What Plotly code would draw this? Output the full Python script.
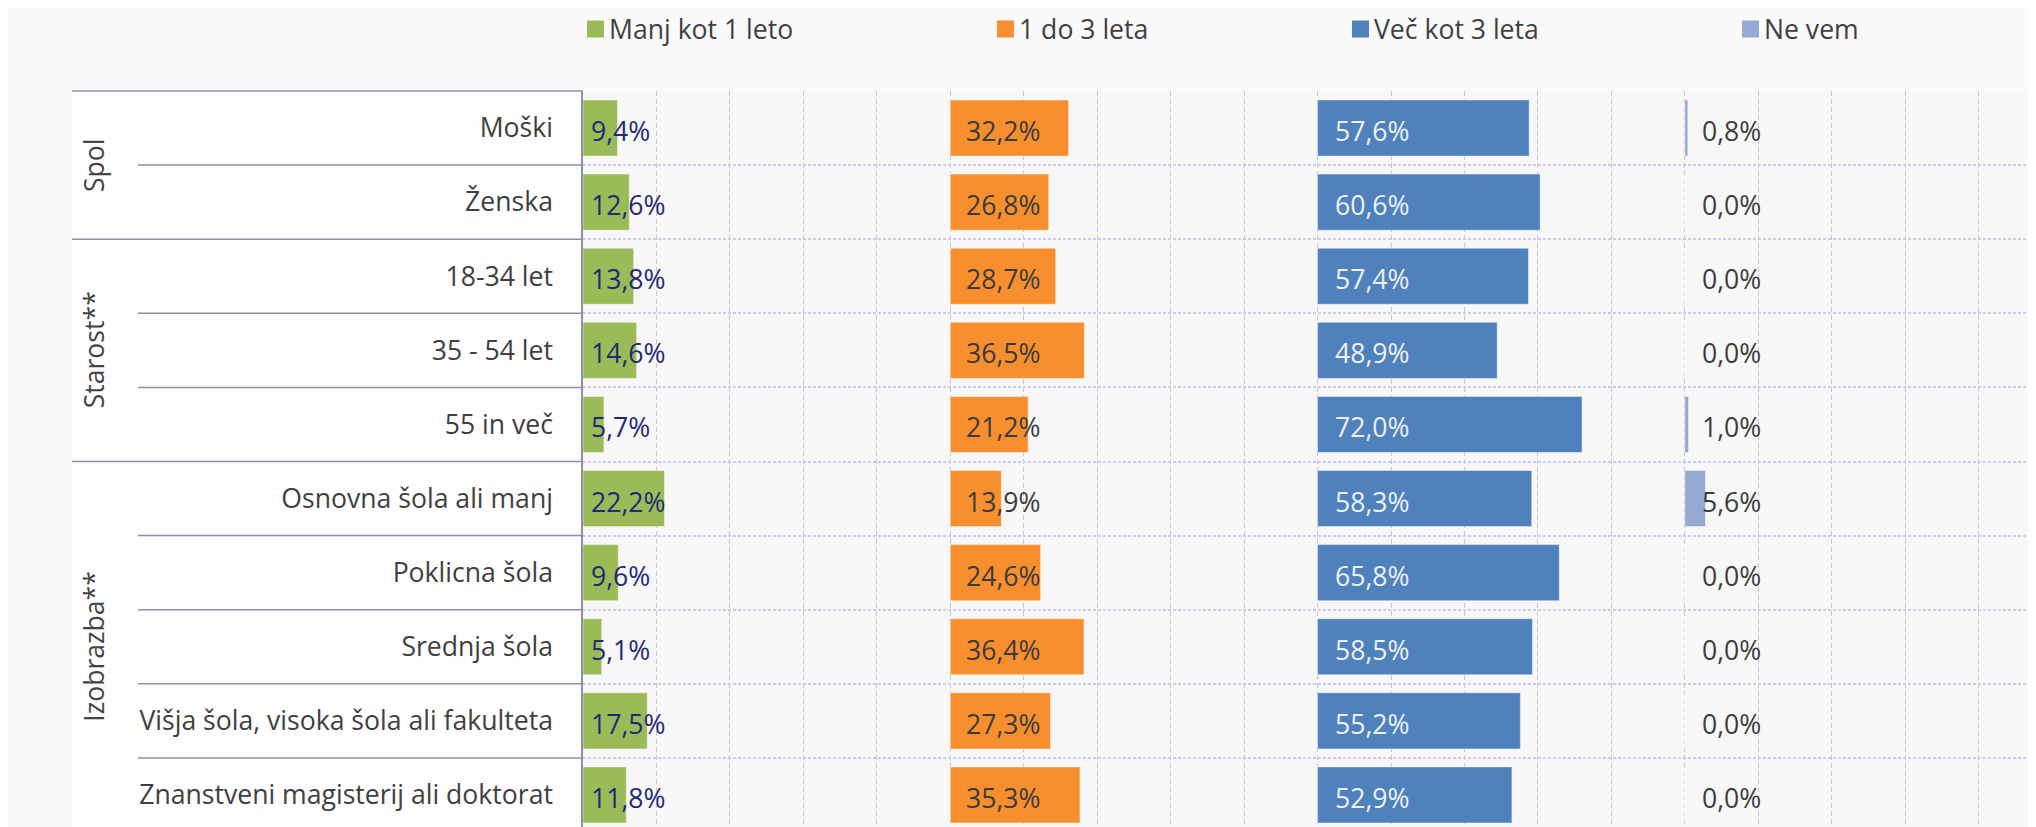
import plotly.graph_objects as go

# ---------------- data ----------------
categories = [
    "Moški", "Ženska",
    "18-34 let", "35 - 54 let", "55 in več",
    "Osnovna šola ali manj", "Poklicna šola", "Srednja šola",
    "Višja šola, visoka šola ali fakulteta", "Znanstveni magisterij ali doktorat",
]
groups = ["Spol", "Starost**", "Izobrazba**"]
group_sizes = [2, 3, 5]

series_names = ["Manj kot 1 leto", "1 do 3 leta", "Več kot 3 leta", "Ne vem"]
manj_kot_1 = [9.4, 12.6, 13.8, 14.6, 5.7, 22.2, 9.6, 5.1, 17.5, 11.8]
od_1_do_3 = [32.2, 26.8, 28.7, 36.5, 21.2, 13.9, 24.6, 36.4, 27.3, 35.3]
vec_kot_3 = [57.6, 60.6, 57.4, 48.9, 72.0, 58.3, 65.8, 58.5, 55.2, 52.9]
ne_vem = [0.8, 0.0, 0.0, 0.0, 1.0, 5.6, 0.0, 0.0, 0.0, 0.0]
series_values = [manj_kot_1, od_1_do_3, vec_kot_3, ne_vem]

# ---------------- style ----------------
colors = ["#9BBB59", "#F88F2F", "#4F81BD", "#95A9D3"]
label_colors = ["#1f2a75", "#3b3b3b", "#eef1f6", "#3b3b3b"]
label_pad_px = [6, 14, 15, 15]
FONT = "Open Sans"
FS = 26.6

OFF = 8                      # page body margin
SL, ST = 583, 91             # plot-area origin on screen
W, H = 2036 - OFF, 827 - OFF
L, T = SL - OFF, ST - OFF
plot_w = W - L
plot_h = H - T
px_per_unit = 3.673
panel_width = 100
x_max = plot_w / px_per_unit
row_px = 74.1
rows_visible = plot_h / row_px

line_col = "#8e90a8"


def fmt(v):
    return f"{v:.1f}".replace(".", ",") + "%"


fig = go.Figure()
annotations = []
for k, (name, vals) in enumerate(zip(series_names, series_values)):
    base = k * panel_width
    fig.add_trace(go.Bar(
        y=categories, x=vals, base=[base] * len(vals), orientation="h",
        name=name, showlegend=False, hoverinfo="skip",
        marker=dict(color=colors[k], line=dict(width=1, color="rgba(255,255,255,0.45)")),
    ))
    for cat, v in zip(categories, vals):
        annotations.append(dict(
            xref="x", yref="y", x=base, y=cat, xshift=label_pad_px[k], yshift=-3,
            text=fmt(v), showarrow=False, xanchor="left", yanchor="middle",
            font=dict(family=FONT, size=FS, color=label_colors[k]),
        ))

shapes = []

# left table lines (screen x positions)
x_group = -(SL - 72) / plot_w
x_inner = -(SL - 138) / plot_w
shapes.append(dict(type="rect", xref="paper", yref="paper", x0=x_group, x1=0, y0=0, y1=1,
                   fillcolor="#fdfdfd", line=dict(width=0), layer="below"))
shapes.append(dict(type="line", xref="paper", yref="paper", x0=x_group, x1=0, y0=1, y1=1,
                   line=dict(color=line_col, width=1.5)))
start = 0
for gi, (g, n) in enumerate(zip(groups, group_sizes)):
    for r in range(start, start + n):
        if r == 0:
            continue
        x0 = x_group if r == start else x_inner
        shapes.append(dict(type="line", xref="paper", yref="y", x0=x0, x1=0,
                           y0=r - 0.5, y1=r - 0.5, line=dict(color=line_col, width=1.5)))
    annotations.append(dict(
        xref="paper", yref="y", x=0, xshift=-(SL - 94), y=start + (n - 1) / 2,
        text=g, textangle=-90, showarrow=False, xanchor="center", yanchor="middle",
        font=dict(family=FONT, size=FS, color="#444444"),
    ))
    start += n

# custom legend (screen positions)
legend_px = [587, 997, 1352, 1742]
sq = 17
leg_y = 29
for name, col, lx in zip(series_names, colors, legend_px):
    shapes.append(dict(
        type="rect", xref="paper", yref="paper",
        x0=(lx - SL) / plot_w, x1=(lx + sq - SL) / plot_w,
        y0=1 + (ST - (leg_y + sq / 2)) / plot_h, y1=1 + (ST - (leg_y - sq / 2)) / plot_h,
        fillcolor=col, line=dict(width=0),
    ))
    annotations.append(dict(
        xref="paper", yref="paper", x=(lx + sq + 3 - SL) / plot_w, y=1 + (ST - leg_y) / plot_h,
        text=name, showarrow=False, xanchor="left", yanchor="middle",
        font=dict(family=FONT, size=FS, color="#404040"),
    ))

fig.update_layout(
    width=W, height=H,
    margin=dict(l=L, r=0, t=T, b=0, pad=0),
    paper_bgcolor="#fafafa", plot_bgcolor="#f7f7f7",
    barmode="overlay", bargap=0.243,
    font=dict(family=FONT, size=FS, color="#404040"),
    shapes=shapes, annotations=annotations,
    showlegend=False,
    xaxis=dict(range=[0, x_max], tick0=0, dtick=20, showgrid=True,
               gridcolor="#c6c6d2", griddash="5px,3px", gridwidth=1,
               showticklabels=False, zeroline=False, showline=False, fixedrange=True),
    yaxis=dict(type="category", categoryorder="array", categoryarray=categories,
               range=[-0.5 + rows_visible, -0.5], tickson="boundaries",
               showgrid=True, gridcolor="#c9ccef", griddash="3px,2px", gridwidth=1.5,
               showline=True, linecolor=line_col, linewidth=1.5,
               ticks="", ticklabelstandoff=23,
               tickfont=dict(family=FONT, size=FS, color="#404040"),
               zeroline=False, fixedrange=True),
)

fig.write_html("out.html")
